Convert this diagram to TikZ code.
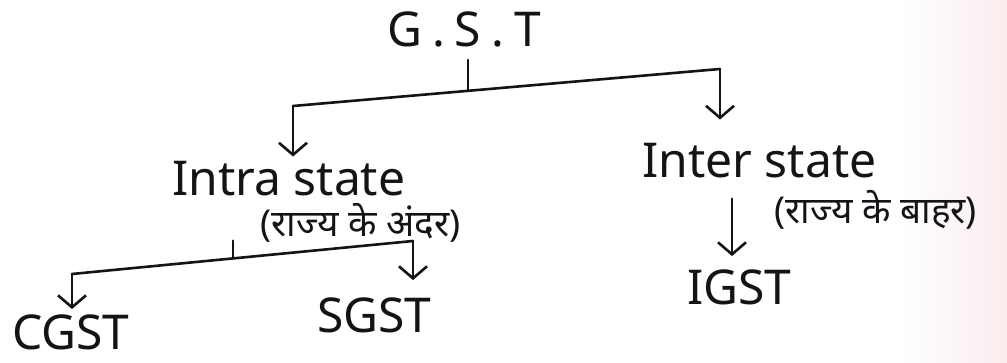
\documentclass[tikz,border=0pt]{standalone}
\usepackage{fontspec}
\setmainfont{Noto Sans}
\newfontfamily\hindi[Script=Devanagari]{Noto Sans}
\usetikzlibrary{arrows.meta}
\definecolor{ink}{RGB}{20,20,24}
\definecolor{paperpink}{RGB}{250,236,238}
\tikzset{
  lbl/.style={anchor=base west, inner sep=2pt, text=ink, font=\fontsize{48}{56}\selectfont},
  hlbl/.style={anchor=base west, inner sep=2pt, text=ink, font=\hindi\fontsize{37}{44}\selectfont},
  wire/.style={draw=ink, line width=2.6pt, line cap=round, line join=round},
  arr/.style={wire, -{Straight Barb[length=12pt, width=28pt, line width=2.6pt]}},
}
\begin{document}
\begin{tikzpicture}[x=1pt, y=-1pt]
\useasboundingbox (0,0) rectangle (1007,363);
\fill[white] (0,0) rectangle (1007,363);
\shade[left color=white, right color=paperpink] (900,0) rectangle (1007,363);
% labels
\node[lbl] (gst) at (385,47) {G\kern10pt.\kern10pt S\kern10pt.\kern10pt T};
\node[lbl] (intra) at (170,196) {Intra state};
\node[hlbl] (intrahi) at (258,237) {(राज्य के अंदर)};
\node[lbl] (inter) at (640,178) {Inter state};
\node[hlbl] (interhi) at (772,224) {(राज्य के बाहर)};
\node[lbl] (igst) at (685,305) {IGST};
\node[lbl] (sgst) at (315,333) {SGST};
\node[lbl] (cgst) at (10,350) {CGST};
% junctions
\coordinate (g1) at (468,91);
\coordinate (gl) at (293,106);
\coordinate (gr) at (720,69);
\coordinate (i1) at (233,257);
\coordinate (il) at (72,274);
\coordinate (ir) at (413,241);
% connectors
\draw[wire, shorten <=10pt] (gst.south -| g1) -- (g1);
\draw[wire] (gl) -- (gr);
\draw[arr, shorten >=3pt] (gl) -- (intra.north -| gl);
\draw[arr, shorten >=22pt] (gr) -- (inter.north -| gr);
\draw[wire, shorten <=42pt] (intra.south -| i1) -- (i1);
\draw[wire] (il) -- (ir);
\draw[arr, shorten >=4pt] (il) -- (cgst.north -| il);
\draw[arr, shorten >=16pt] (ir) -- (sgst.north -| ir);
\draw[arr, shorten <=18pt, shorten >=12pt] (inter.south -| gr) ++(12,0) coordinate (ia) (ia) -- (ia |- igst.north);
\end{tikzpicture}
\end{document}
